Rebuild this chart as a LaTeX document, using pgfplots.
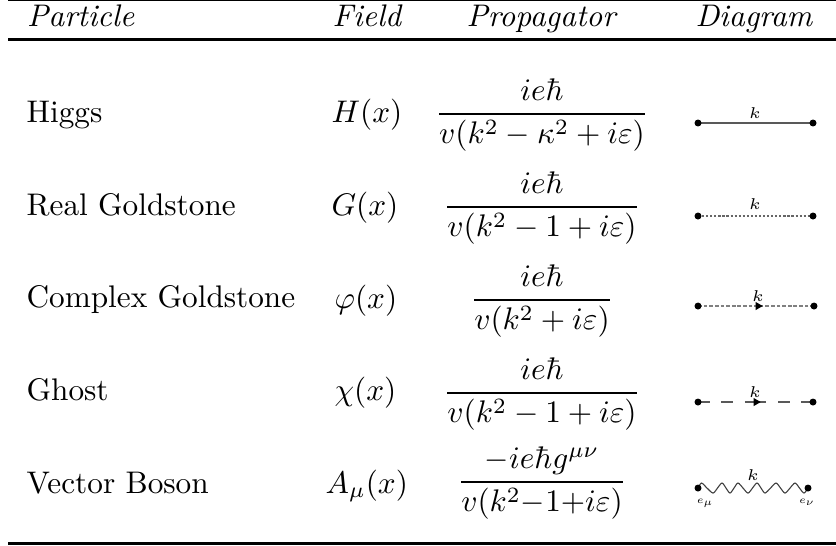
\documentclass[border=0pt]{standalone}
\usepackage{amsmath}
\usepackage{pgfplots}
\pgfplotsset{compat=1.18}
\newcommand{\lab}[3]{\node[anchor=base west,inner sep=0pt] at (axis cs:#1,#2) {#3};}
\newcommand{\fr}[4]{\node[anchor=base,inner sep=0pt] at (axis cs:#1,#2) {$\genfrac{}{}{0.6pt}{0}{#3}{#4}$};}
\begin{document}
\begin{tikzpicture}
\begin{axis}[
  scale only axis, width=267.5pt, height=174.4pt,
  xmin=0, xmax=836, ymin=0, ymax=545, y dir=reverse,
  axis lines=none, clip=false,
]
% rules
\addplot[black,line width=0.4pt,forget plot] coordinates {(8,0.6) (836,0.6)};
\addplot[black,line width=1pt,forget plot] coordinates {(8,39.5) (836,39.5)};
\addplot[black,line width=1pt,forget plot] coordinates {(8,543.5) (836,543.5)};
% Higgs
\addplot[black!65,line width=0.4pt,mark=*,mark size=0.9pt,mark options={black,solid},forget plot] coordinates {(698,123) (813,123)};
% Real Goldstone
\addplot[black!60,line width=0.5pt,dash pattern=on 0.7pt off 0.6pt,forget plot] coordinates {(698,216) (813,216)};
\addplot[only marks,black,mark=*,mark size=0.9pt,forget plot] coordinates {(698,216) (813,216)};
% Complex Goldstone
\addplot[black!50,line width=0.35pt,dash pattern=on 1.2pt off 0.6pt,forget plot] coordinates {(698,306) (758,306)};
\addplot[black!50,line width=0.35pt,dash pattern=on 1.2pt off 0.6pt,forget plot] coordinates {(814,306) (758,306)};
\addplot[only marks,black,mark=*,mark size=0.9pt,forget plot] coordinates {(698,306) (814,306)};
\addplot[only marks,black,mark=triangle*,mark size=1.1pt,mark options={rotate=-90},forget plot] coordinates {(758,306)};
% Ghost
\addplot[black!65,line width=0.45pt,dash pattern=on 3.75pt off 3.75pt,forget plot] coordinates {(698,402) (756,402)};
\addplot[black!65,line width=0.45pt,dash pattern=on 3.75pt off 3.75pt,forget plot] coordinates {(813,402) (756,402)};
\addplot[only marks,black,mark=*,mark size=0.9pt,forget plot] coordinates {(698,402) (813,402)};
\addplot[only marks,black,mark=triangle*,mark size=1.1pt,mark options={rotate=-90},forget plot] coordinates {(756,402)};
% Vector Boson
\addplot[black!75,line width=0.35pt,smooth,forget plot] coordinates {(698,488) (701.5,483) (707,488) (713,493) (717.5,488) (722,483) (726,488) (730,493) (734,488) (738,483) (743,488) (748,493) (752.5,488) (757,483) (761,488) (765,493) (770.5,488) (776,483) (780.5,488) (785,493) (790,488) (795,483) (799.5,488) (804,493) (808,488)};
\addplot[only marks,black,mark=*,mark size=0.9pt,forget plot] coordinates {(698,488) (808,488)};
% header
\lab{26.5}{27}{\textit{Particle}}
\lab{332}{27}{\textit{Field}}
\lab{466}{27}{\textit{Propagator}}
\lab{695}{27}{\textit{Diagram}}
% rows
\lab{26}{122}{Higgs}
\lab{26}{215}{Real Goldstone}
\lab{26}{307.5}{Complex Goldstone}
\lab{26}{400}{Ghost}
\lab{26}{493}{Vector Boson}
\lab{331}{122}{$H(x)$}
\lab{331}{215}{$G(x)$}
\lab{334}{308}{$\varphi(x)$}
\lab{334}{400}{$\chi(x)$}
\lab{325}{493}{$A_\mu(x)$}
\fr{542}{121.5}{ie\hbar}{v(k^2-\kappa^2+i\varepsilon)}
\fr{542}{214.5}{ie\hbar}{v(k^2-1+i\varepsilon)}
\fr{542}{307.5}{ie\hbar}{v(k^2+i\varepsilon)}
\fr{542}{400.5}{ie\hbar}{v(k^2-1+i\varepsilon)}
\fr{542}{489.5}{-ie\hbar g^{\mu\nu}}{v(k^2{-}1{+}i\varepsilon)}
% small labels
\node[inner sep=0pt,anchor=base] at (axis cs:755,118) {\tiny $k$};
\node[inner sep=0pt,anchor=base] at (axis cs:755,209) {\tiny $k$};
\node[inner sep=0pt,anchor=base] at (axis cs:758,301) {\tiny $k$};
\node[inner sep=0pt,anchor=base] at (axis cs:755,397) {\tiny $k$};
\node[inner sep=0pt,anchor=base] at (axis cs:753,480) {\tiny $k$};
\node[inner sep=0pt,anchor=base,scale=0.65] at (axis cs:705,503) {\tiny $e_\mu$};
\node[inner sep=0pt,anchor=base,scale=0.65] at (axis cs:807,503) {\tiny $e_\nu$};
\end{axis}
\pgfresetboundingbox
\path[use as bounding box] (0,0) rectangle (267.5pt,174.4pt);
\end{tikzpicture}
\end{document}
